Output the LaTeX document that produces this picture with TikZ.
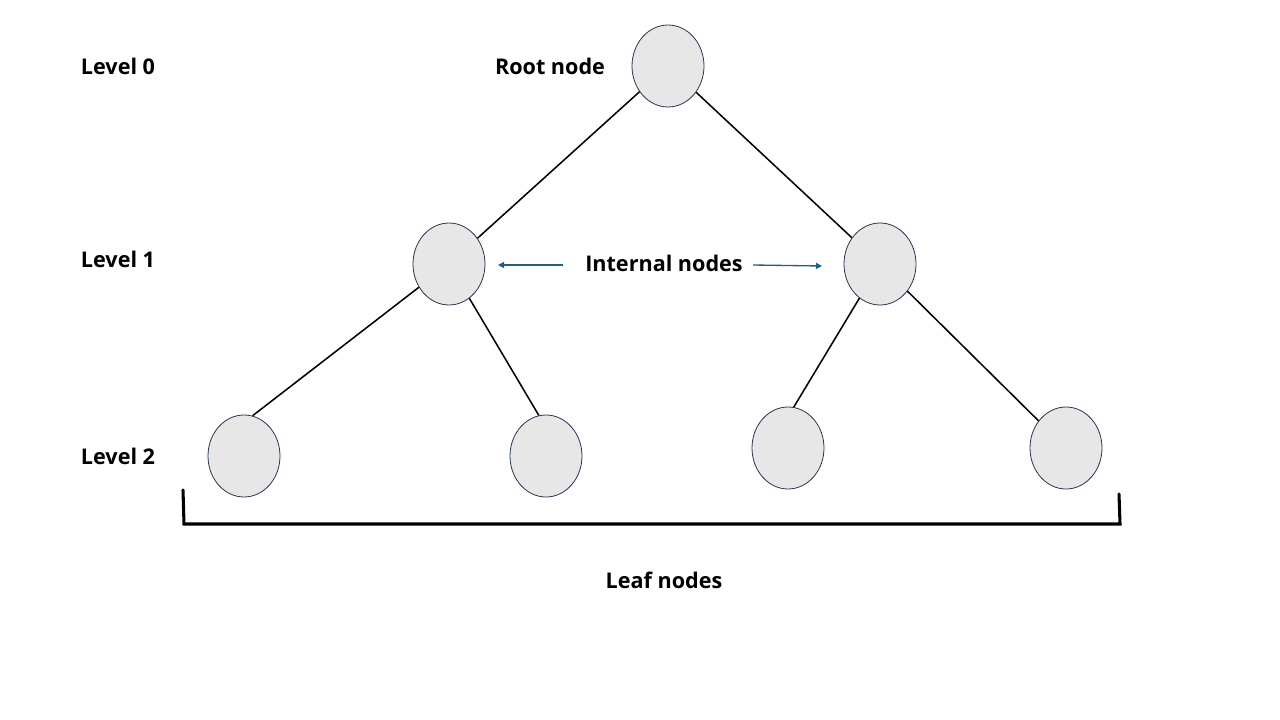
\documentclass[tikz,border=0pt]{standalone}
\usepackage{fontspec}
\setmainfont{Open Sans}
\usetikzlibrary{shapes.geometric,arrows.meta}
\definecolor{nodefill}{HTML}{E7E7E7}
\definecolor{nodeline}{HTML}{2A3550}
\definecolor{arrowblue}{HTML}{1F5F86}
\tikzset{
  treenode/.style={ellipse,draw=nodeline,line width=0.6pt,fill=nodefill,minimum width=54pt,minimum height=61.5pt,inner sep=0pt},
  edge/.style={draw=black,line width=1.15pt},
  lbl/.style={font=\fontsize{16.2}{19}\selectfont\bfseries,inner sep=0pt},
  pointer/.style={draw=arrowblue,line width=1pt,-{Triangle[length=4.5pt,width=4.5pt]}},
  bracket/.style={draw=black,line width=2.3pt,line cap=round,line join=miter}
}
\begin{document}
\begin{tikzpicture}[x=0.75pt,y=-0.75pt]
\useasboundingbox (0,0) rectangle (1280,720);
\node[treenode] (root) at (668,66) {};
\node[treenode] (l1a) at (449,264) {};
\node[treenode] (l1b) at (880,264) {};
\node[treenode] (l2a) at (244,456) {};
\node[treenode] (l2b) at (546,456) {};
\node[treenode] (l2c) at (788,448) {};
\node[treenode] (l2d) at (1066,448) {};
\draw[edge] (root) -- (l1a);
\draw[edge] (root) -- (l1b);
\draw[edge] (l1a) -- (l2a.78);
\draw[edge] (l1a) -- (l2b.100);
\draw[edge] (l1b) -- (l2c.82);
\draw[edge] (l1b) -- (l2d);
\node[lbl] (lv0) at (118,66) {Level 0};
\node[lbl] (lv1) at (118,259) {Level 1};
\node[lbl] (lv2) at (118,456) {Level 2};
\node[lbl] (rootlbl) at (550,66) {Root node};
\node[lbl] (internal) at (664,263) {Internal nodes};
\node[lbl] (leaf) at (664,580) {Leaf nodes};
\coordinate (al) at (498,265);
\coordinate (ar) at (822,266);
\coordinate (as) at (563,265);
\coordinate (bs) at (753,265);
\draw[pointer] (as) -- (al);
\draw[pointer] (bs) -- (ar);
\coordinate (b1) at (183,490);
\coordinate (b2) at (184,524);
\coordinate (b3) at (1120,524);
\coordinate (b4) at (1119,494);
\draw[bracket] (b1) -- (b2) -- (b3) -- (b4);
\end{tikzpicture}
\end{document}
